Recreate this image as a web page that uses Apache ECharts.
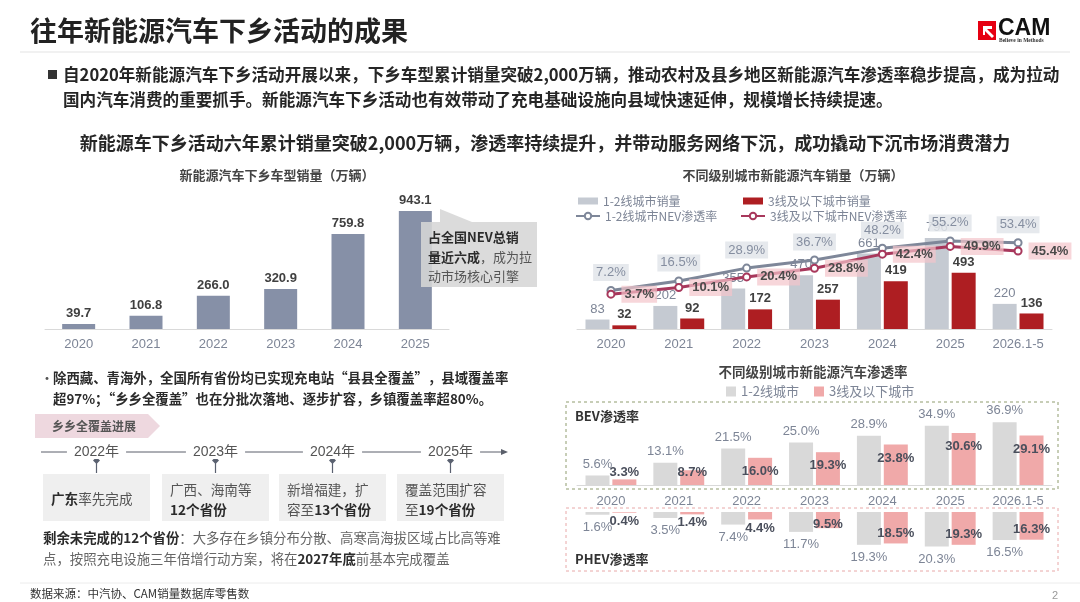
<!DOCTYPE html>
<html>
<head>
<meta charset="utf-8">
<script src="https://cdn.jsdelivr.net/npm/echarts@6/dist/echarts.min.js"></script>
<style>
html, body { margin: 0; padding: 0; background: #fff; }
#chart { width: 1080px; height: 602px; }
</style>
</head>
<body>
<div id="chart"></div>
<script>
// ---------- 数据 ----------
// 新能源汽车下乡车型销量（万辆）
const salesYears = ['2020', '2021', '2022', '2023', '2024', '2025'];
const salesValues = [39.7, 106.8, 266.0, 320.9, 759.8, 943.1];

// 不同级别城市新能源汽车销量（万辆）及渗透率（%）
const cityYears = ['2020', '2021', '2022', '2023', '2024', '2025', '2026.1-5'];
const tier12Sales = [83, 202, 355, 470, 661, 796, 220];
const tier3Sales = [32, 92, 172, 257, 419, 493, 136];
const tier12Rate = [7.2, 16.5, 28.9, 36.7, 48.2, 55.2, 53.4];
const tier3Rate = [3.7, 10.1, 20.4, 28.8, 42.4, 49.9, 45.4];

// BEV / PHEV 渗透率（%）
const bev12 = [5.6, 13.1, 21.5, 25.0, 28.9, 34.9, 36.9];
const bev3 = [3.3, 8.7, 16.0, 19.3, 23.8, 30.6, 29.1];
const phev12 = [1.6, 3.5, 7.4, 11.7, 19.3, 20.3, 16.5];
const phev3 = [0.4, 1.4, 4.4, 9.5, 18.5, 19.3, 16.3];

// 乡乡全覆盖进展
const timelineYears = ['2022年', '2023年', '2024年', '2025年'];
const timelineText = [
    ['{b|广东}{n|率先完成}'],
    ['{n|广西、海南等}', '{b|12个省份}'],
    ['{n|新增福建，扩}', '{n|容至}{b|13个省份}'],
    ['{n|覆盖范围扩容}', '{n|至}{b|19个省份}']
];

const NUM = '"Liberation Sans", "Noto Sans CJK SC", sans-serif';
const CJK = '"Noto Sans CJK SC", "Liberation Sans", sans-serif';
const GRAY_TXT = '#7d8596';

// ---------- 静态文字与装饰 ----------
const graphic = [];
function addText(x, y, text, size, extra) {
    graphic.push({
        type: 'text', x: x, y: y, z: 20, silent: true,
        style: Object.assign({
            text: text, fontSize: size, fontFamily: CJK, fill: '#333',
            verticalAlign: 'middle', align: 'left'
        }, extra || {})
    });
}
function richStyle(size, boldColor, normalColor) {
    return {
        b: { fontSize: size, fontWeight: 'bold', fontFamily: CJK, fill: boldColor },
        n: { fontSize: size, fontFamily: CJK, fill: normalColor }
    };
}

// 标题、logo
addText(30, 31, '往年新能源汽车下乡活动的成果', 27, { fontWeight: 'bold', fill: '#222' });
graphic.push({ type: 'line', z: 1, silent: true, shape: { x1: 20, y1: 52, x2: 1070, y2: 52 }, style: { stroke: '#ececec', lineWidth: 1.5 } });
graphic.push({ type: 'rect', z: 5, silent: true, shape: { x: 978, y: 21, width: 18, height: 19 }, style: { fill: '#e60012' } });
graphic.push({ type: 'polygon', z: 6, silent: true, shape: { points: [[983, 26], [992, 26], [992, 29], [987, 29], [994, 36], [992, 38], [985, 31], [985, 35], [983, 35]] }, style: { fill: '#fff' } });
addText(998, 29, 'CAM', 23, { fontFamily: NUM, fontWeight: 'bold', fill: '#111' });
addText(999, 41, 'Believe in Methods', 5.5, { fontFamily: '"Liberation Serif", serif', fontWeight: 'bold', fill: '#333' });

// 要点
graphic.push({ type: 'rect', z: 5, silent: true, shape: { x: 48, y: 70, width: 9, height: 9 }, style: { fill: '#333' } });
addText(63, 75, '自2020年新能源汽车下乡活动开展以来，下乡车型累计销量突破2,000万辆，推动农村及县乡地区新能源汽车渗透率稳步提高，成为拉动', 16.6, { fontWeight: 'bold', fill: '#262626' });
addText(63, 100, '国内汽车消费的重要抓手。新能源汽车下乡活动也有效带动了充电基础设施向县域快速延伸，规模增长持续提速。', 16.6, { fontWeight: 'bold', fill: '#262626' });
addText(545, 143, '新能源车下乡活动六年累计销量突破2,000万辆，渗透率持续提升，并带动服务网络下沉，成功撬动下沉市场消费潜力', 18, { fontWeight: 'bold', fill: '#262626', align: 'center' });

// 图表小标题
addText(277, 175, '新能源汽车下乡车型销量（万辆）', 13, { fontWeight: 'bold', fill: '#444', align: 'center' });
addText(793, 175, '不同级别城市新能源汽车销量（万辆）', 13, { fontWeight: 'bold', fill: '#444', align: 'center' });
addText(813, 372, '不同级别城市新能源汽车渗透率', 13.5, { fontWeight: 'bold', fill: '#444', align: 'center' });

// 左图标注框
graphic.push({
    type: 'polygon', z: 10, silent: true,
    shape: { points: [[421, 222], [440, 222], [440, 209], [472, 222], [537, 222], [537, 287], [421, 287]] },
    style: { fill: 'rgba(214,214,214,0.88)' }
});
addText(428, 237, '{b|占全国NEV总销}', 13, { rich: richStyle(13, '#2b2b2b', '#555') });
addText(428, 257, '{b|量近六成}{n|，成为拉}', 13, { rich: richStyle(13, '#2b2b2b', '#555') });
addText(428, 276, '{n|动市场核心引擎}', 13, { rich: richStyle(13, '#2b2b2b', '#555') });

// 充电设施说明
addText(40, 378, '•', 14, { fill: '#555' });
addText(53, 378, '除西藏、青海外，全国所有省份均已实现充电站“县县全覆盖”，县域覆盖率', 13.4, { fontWeight: 'bold', fill: '#2b2b2b' });
addText(53, 399, '超97%；“乡乡全覆盖”也在分批次落地、逐步扩容，乡镇覆盖率超80%。', 13.4, { fontWeight: 'bold', fill: '#2b2b2b' });
graphic.push({ type: 'polygon', z: 5, silent: true, shape: { points: [[35, 414], [148, 414], [160, 426], [148, 438], [35, 438]] }, style: { fill: '#eed8df' } });
addText(52, 426, '乡乡全覆盖进展', 12, { fontWeight: 'bold', fill: '#555' });

// 时间轴
graphic.push({ type: 'line', z: 5, silent: true, shape: { x1: 41, y1: 452, x2: 503, y2: 452 }, style: { stroke: '#5a5f6a', lineWidth: 1 } });
graphic.push({ type: 'polygon', z: 5, silent: true, shape: { points: [[508, 452], [501, 449], [501, 455]] }, style: { fill: '#5a5f6a' } });
const boxLeft = [43, 162, 279, 397];
timelineYears.forEach(function (yr, i) {
    const cx = boxLeft[i] + 53.5;
    addText(cx, 452, yr, 14, { align: 'center', fill: '#555', backgroundColor: '#fff', padding: [0, 7], fontFamily: NUM });
    graphic.push({ type: 'line', z: 6, silent: true, shape: { x1: cx, y1: 460, x2: cx, y2: 473 }, style: { stroke: '#5a6170', lineWidth: 1.2 } });
    graphic.push({ type: 'polygon', z: 6, silent: true, shape: { points: [[cx, 457], [cx + 3.5, 460.5], [cx, 464], [cx - 3.5, 460.5]] }, style: { fill: '#5a6170' } });
    graphic.push({ type: 'rect', z: 4, silent: true, shape: { x: boxLeft[i], y: 474, width: 107, height: 47 }, style: { fill: '#efefef' } });
    const lines = timelineText[i];
    lines.forEach(function (t, k) {
        const y = lines.length === 1 ? 499 : 490 + k * 20;
        addText(boxLeft[i] + 8, y, t, 13.6, { rich: richStyle(13.6, '#2b2b2b', '#555') });
    });
});
addText(43, 538, '{b|剩余未完成的12个省份}{n|：大多存在乡镇分布分散、高寒高海拔区域占比高等难}', 13.4, { rich: richStyle(13.4, '#2b2b2b', '#666') });
addText(43, 559, '{n|点，按照充电设施三年倍增行动方案，将在}{b|2027年底}{n|前基本完成覆盖}', 13.4, { rich: richStyle(13.4, '#2b2b2b', '#666') });

// BEV / PHEV 虚线框
graphic.push({ type: 'rect', z: 1, silent: true, shape: { x: 566, y: 402, width: 492, height: 87 }, style: { fill: 'none', stroke: '#8f9c6e', lineWidth: 1, lineDash: [3, 3] } });
graphic.push({ type: 'rect', z: 1, silent: true, shape: { x: 566, y: 508, width: 492, height: 63 }, style: { fill: 'none', stroke: '#e8a8a8', lineWidth: 1, lineDash: [3, 3] } });
addText(575, 416, 'BEV渗透率', 13, { fontWeight: 'bold', fill: '#333' });
addText(575, 559, 'PHEV渗透率', 13, { fontWeight: 'bold', fill: '#333' });

// 页脚
graphic.push({ type: 'line', z: 1, silent: true, shape: { x1: 20, y1: 583, x2: 1080, y2: 583 }, style: { stroke: '#ececec', lineWidth: 1 } });
addText(30, 594, '数据来源：中汽协、CAM销量数据库零售数', 11.5, { fill: '#333' });
addText(1052, 596, '2', 11, { fill: '#999', fontFamily: NUM });

// ---------- 标签规则 ----------
const pctFmt = function (p) { return Number(p.value).toFixed(1) + '%'; };
const bev3Data = bev3.map(function (v) {
    let label;
    if (v < 5) label = { position: 'top', distance: 0 };
    else if (v < 10) label = { position: 'insideTop', distance: -4 };
    else label = { position: 'insideTop', distance: 7 };
    return { value: v, label: label };
});
const phev3Data = phev3.map(function (v) {
    let label;
    if (v < 5) label = { position: 'bottom', distance: 2 };
    else if (v < 10) label = { position: 'insideBottom', distance: -3 };
    else label = { position: 'insideBottom', distance: 4 };
    return { value: v, label: label };
});

function catAxis(gridIndex, data, showLabel, margin) {
    return {
        type: 'category', gridIndex: gridIndex, data: data,
        axisLine: { show: showLabel, lineStyle: { color: '#d9d9d9', width: 1 } },
        axisTick: { show: false },
        axisLabel: { show: showLabel, margin: margin, fontSize: 13, color: GRAY_TXT, fontFamily: NUM }
    };
}
function valAxis(gridIndex, min, max, inverse) {
    return { type: 'value', gridIndex: gridIndex, min: min, max: max, inverse: !!inverse, show: false, splitLine: { show: false } };
}

const option = {
    animation: false,
    backgroundColor: '#fff',
    textStyle: { fontFamily: NUM },
    graphic: graphic,
    legend: [
        { left: 573, top: 190, itemWidth: 20, itemHeight: 7, icon: 'rect', data: ['1-2线城市销量'], textStyle: { fontSize: 12, color: GRAY_TXT, fontFamily: CJK } },
        { left: 738, top: 190, itemWidth: 20, itemHeight: 7, icon: 'rect', data: ['3线及以下城市销量'], textStyle: { fontSize: 12, color: GRAY_TXT, fontFamily: CJK } },
        { left: 570, top: 205, itemWidth: 24, itemHeight: 8, data: ['1-2线城市NEV渗透率'], textStyle: { fontSize: 12, color: GRAY_TXT, fontFamily: CJK } },
        { left: 735, top: 205, itemWidth: 24, itemHeight: 8, data: ['3线及以下城市NEV渗透率'], textStyle: { fontSize: 12, color: GRAY_TXT, fontFamily: CJK } },
        { left: 721, top: 380, itemWidth: 10, itemHeight: 10, icon: 'rect', data: ['1-2线城市'], textStyle: { fontSize: 13, color: GRAY_TXT, fontFamily: CJK } },
        { left: 809, top: 380, itemWidth: 10, itemHeight: 10, icon: 'rect', data: ['3线及以下城市'], textStyle: { fontSize: 13, color: GRAY_TXT, fontFamily: CJK } }
    ],
    grid: [
        { left: 45, top: 191.5, width: 404, height: 137.5 },
        { left: 577, top: 192, width: 475, height: 137 },
        { left: 577, top: 417, width: 475, height: 68 },
        { left: 577, top: 512, width: 475, height: 42.5 }
    ],
    xAxis: [
        catAxis(0, salesYears, true, 9),
        catAxis(1, cityYears, true, 9),
        catAxis(2, cityYears, true, 10),
        catAxis(3, cityYears, false, 8)
    ],
    yAxis: [
        valAxis(0, 0, 1100),
        valAxis(1, 0, 1200),
        valAxis(1, -30, 102.5),
        valAxis(2, 0, 40),
        valAxis(3, 0, 25, true)
    ],
    series: [
        {
            name: '下乡车型销量', type: 'bar', xAxisIndex: 0, yAxisIndex: 0,
            data: salesValues, barWidth: 33,
            itemStyle: { color: '#8690a7' },
            label: { show: true, position: 'top', distance: 4, fontSize: 13, fontWeight: 'bold', color: '#404040', formatter: function (p) { return p.value.toFixed(1); } }
        },
        {
            name: '1-2线城市销量', type: 'bar', xAxisIndex: 1, yAxisIndex: 1,
            data: tier12Sales, barWidth: 24, barGap: '12%', z: 2,
            itemStyle: { color: '#c5cad2' },
            label: { show: true, position: 'top', distance: 4, fontSize: 13, color: GRAY_TXT }
        },
        {
            name: '3线及以下城市销量', type: 'bar', xAxisIndex: 1, yAxisIndex: 1,
            data: tier3Sales, barWidth: 24, barGap: '12%', z: 2,
            itemStyle: { color: '#ae1e22' },
            label: { show: true, position: 'top', distance: 4, fontSize: 13, fontWeight: 'bold', color: '#404040' }
        },
        {
            name: '1-2线城市NEV渗透率', type: 'line', xAxisIndex: 1, yAxisIndex: 2,
            data: tier12Rate, z: 5,
            symbol: 'emptyCircle', symbolSize: 7,
            lineStyle: { color: '#7e8799', width: 3 },
            itemStyle: { color: '#7e8799', borderWidth: 1.5 },
            label: {
                show: true, position: 'top', distance: 5, fontSize: 13, color: '#858ea0',
                backgroundColor: 'rgba(226,229,234,0.85)', padding: [2, 3], formatter: pctFmt
            }
        },
        {
            name: '3线及以下城市NEV渗透率', type: 'line', xAxisIndex: 1, yAxisIndex: 2,
            data: tier3Rate, z: 6,
            symbol: 'emptyCircle', symbolSize: 7,
            lineStyle: { color: '#a8385c', width: 3 },
            itemStyle: { color: '#a8385c', borderWidth: 1.5 },
            label: {
                show: true, position: 'right', distance: 6, fontSize: 13, fontWeight: 'bold', color: '#4a4a4a',
                backgroundColor: 'rgba(243,196,202,0.7)', padding: [2, 3], formatter: pctFmt
            }
        },
        {
            name: '1-2线城市', type: 'bar', xAxisIndex: 2, yAxisIndex: 3,
            data: bev12, barWidth: 24, barGap: '12%',
            itemStyle: { color: '#d9d9d9' },
            label: { show: true, position: 'top', distance: 5, fontSize: 13, color: GRAY_TXT, formatter: pctFmt }
        },
        {
            name: '3线及以下城市', type: 'bar', xAxisIndex: 2, yAxisIndex: 3,
            data: bev3Data, barWidth: 24, barGap: '12%',
            itemStyle: { color: '#f0a9a9' },
            label: { show: true, fontSize: 13, fontWeight: 'bold', color: '#4a4f5c', formatter: pctFmt }
        },
        {
            name: '1-2线城市', type: 'bar', xAxisIndex: 3, yAxisIndex: 4,
            data: phev12, barWidth: 24, barGap: '12%',
            itemStyle: { color: '#d9d9d9' },
            label: { show: true, position: 'bottom', distance: 6, fontSize: 13, color: GRAY_TXT, formatter: pctFmt }
        },
        {
            name: '3线及以下城市', type: 'bar', xAxisIndex: 3, yAxisIndex: 4,
            data: phev3Data, barWidth: 24, barGap: '12%',
            itemStyle: { color: '#f0a9a9' },
            label: { show: true, fontSize: 13, fontWeight: 'bold', color: '#4a4f5c', formatter: pctFmt }
        }
    ]
};

const chart = echarts.init(document.getElementById('chart'));
chart.setOption(option);
</script>
</body>
</html>
